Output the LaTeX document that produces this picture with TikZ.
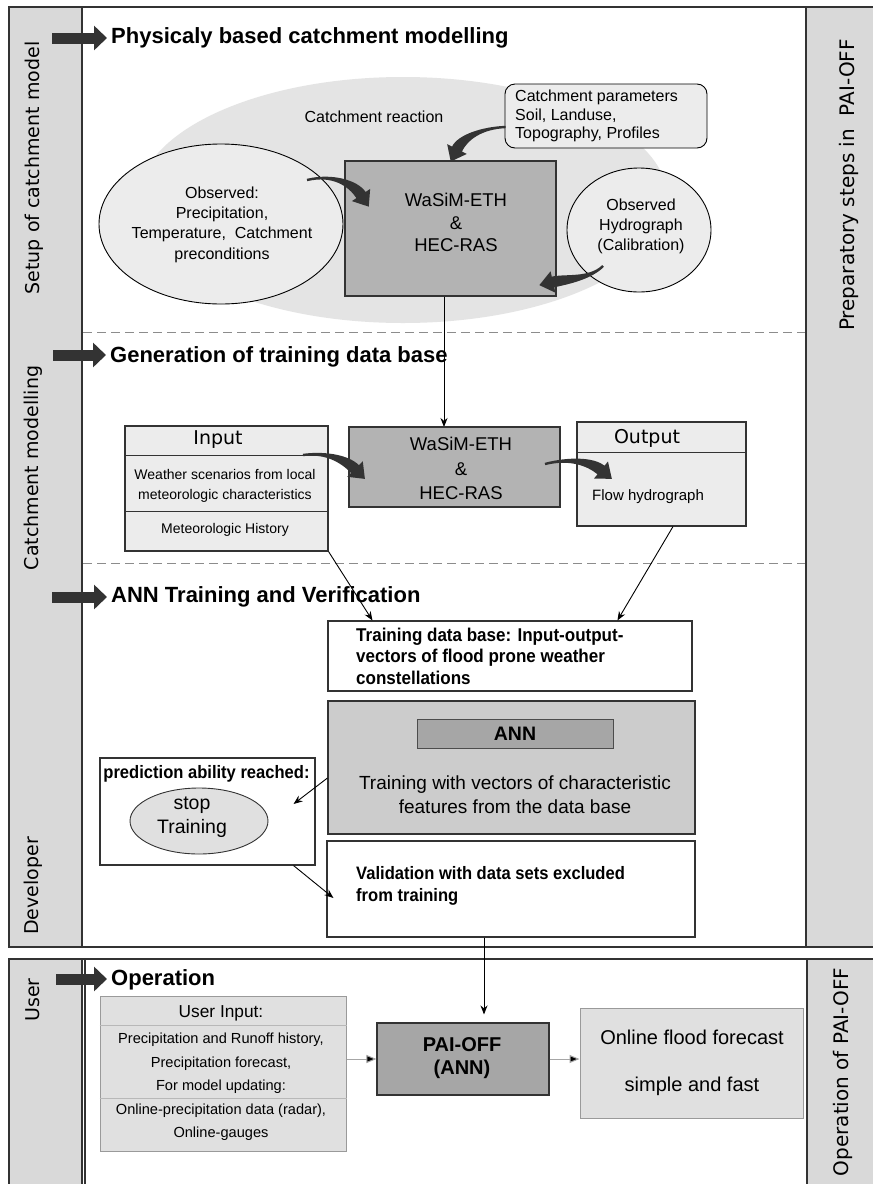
\documentclass[tikz,border=0pt]{standalone}
\usepackage{fontspec}
\setmainfont{Liberation Sans}
\newfontfamily\dejavu{DejaVu Sans}
\newfontfamily\narrowf[FakeStretch=0.92]{Liberation Sans}
\usetikzlibrary{arrows.meta,calc,shapes.geometric}
\definecolor{stripgray}{HTML}{D9D9D9}
\definecolor{framecol}{HTML}{333333}
\definecolor{ellgray}{HTML}{E4E4E4}
\definecolor{lightfill}{HTML}{ECECEC}
\definecolor{midgray}{HTML}{B3B3B3}
\definecolor{anngray}{HTML}{CCCCCC}
\definecolor{darkgray}{HTML}{A6A6A6}
\definecolor{userfill}{HTML}{E0E0E0}
\definecolor{userline}{HTML}{9A9A9A}
\newcommand\fsz[2]{\fontsize{#1}{#2}\selectfont}
% tapered curved block arrow: #1 start, #2 control 1, #3 control 2, #4 base of head
\newcommand\taperarrow[4]{%
  \coordinate (tSL) at ($(#1)!1.2pt!90:(#2)$);
  \coordinate (tSR) at ($(#1)!1.2pt!-90:(#2)$);
  \coordinate (tEL) at ($(#4)!5.5pt!-90:(#3)$);
  \coordinate (tER) at ($(#4)!5.5pt!90:(#3)$);
  \coordinate (tHL) at ($(#4)!11pt!-90:(#3)$);
  \coordinate (tHR) at ($(#4)!11pt!90:(#3)$);
  \coordinate (tTip) at ($(#4)!-14pt!(#3)$);
  \fill[framecol] (tSL) .. controls ($(#2)+(tSL)-(#1)$) and ($(#3)+(tEL)-(#4)$) .. (tEL)
     -- (tHL) -- (tTip) -- (tHR) -- (tER)
     .. controls ($(#3)+(tER)-(#4)$) and ($(#2)+(tSR)-(#1)$) .. (tSR) -- cycle;
}
\begin{document}
\begin{tikzpicture}[x=1pt,y=-1pt,
  frameline/.style={draw=framecol,line width=1.8pt},
  strip/.style={fill=stripgray},
  box/.style={draw=framecol,line width=1.1pt,rectangle,inner sep=0pt},
  lbl/.style={inner sep=0pt,align=center},
  heading/.style={inner sep=4pt,anchor=west,font=\bfseries\fsz{22}{26}},
  harr/.style={draw=framecol,line width=11pt,-{Triangle[length=13pt,width=24pt]}},
  thinarr/.style={draw=black,line width=0.9pt,-{Stealth[length=9pt,width=7pt]}},
  striplbl/.style={inner sep=0pt,rotate=90,font=\dejavu\fsz{19}{22}},
  dashline/.style={draw=black!45,line width=0.9pt,dash pattern=on 9pt off 5pt}
]
\useasboundingbox (0,0) rectangle (873,1184);
\fill[white] (0,0) rectangle (873,1184);

% ---------- upper frame ----------
\fill[strip] (9,7) rectangle (82,947);
\fill[strip] (806,7) rectangle (880,947);
\draw[frameline] (880,7) -- (9,7) -- (9,947) -- (880,947);
\draw[frameline] (82,7) -- (82,947);
\draw[frameline] (806,7) -- (806,947);
% ---------- lower frame ----------
\fill[strip] (9,959) rectangle (82,1190);
\fill[strip] (807,959) rectangle (880,1190);
\draw[frameline] (9,1190) -- (9,959) -- (880,959);
\draw[frameline] (82,959) -- (82,1190);
\draw[draw=framecol,line width=1.2pt] (85,959) -- (85,1190);
\draw[frameline] (807,959) -- (807,1190);

% dashed separators
\draw[dashline] (83,332) -- (805,332);
\draw[dashline] (83,563) -- (805,563);

% strip labels
\node[striplbl] (lsetup) at (34,168) {Setup of catchment model};
\node[striplbl] (lcatch) at (33,468) {Catchment modelling};
\node[striplbl] (ldev) at (33,886) {Developer};
\node[striplbl] (luser) at (33,1000) {User};
\node[striplbl,font=\dejavu\fsz{20}{22}] (rprep) at (849,185) {Preparatory steps in\ \ PAI-OFF};
\node[striplbl,font=\dejavu\fsz{20}{22}] (roper) at (843,1072) {Operation of PAI-OFF};

% headings
\node[heading] (h1) at (107,37.5) {Physicaly based catchment modelling};
\node[heading] (h2) at (106,357) {Generation of training data base};
\node[heading] (h3) at (107,597) {ANN Training and Verification};
\node[heading] (h4) at (107,980) {Operation};
\coordinate (h1s) at (52,38);
\coordinate (h2s) at (53,355);
\coordinate (h3s) at (52,597);
\coordinate (h4s) at (56,979);
\draw[harr] (h1s) -- (h1.west |- h1s);
\draw[harr] (h2s) -- (h2.west |- h2s);
\draw[harr] (h3s) -- (h3.west |- h3s);
\draw[harr] (h4s) -- (h4.west |- h4s);

% ---------- section 1 ----------
\fill[ellgray] (403,200) ellipse [x radius=265pt, y radius=123pt];
\node[lbl,font=\fsz{16}{19}] (reaction) at (374,117) {Catchment reaction};

\node[box,fill=midgray,minimum width=211pt,minimum height=135pt] (wasim1) at (450.5,228.5) {};
\node[lbl,font=\fsz{18.5}{22.5}] (wasim1t) at (456,222.5) {WaSiM-ETH\\\&\\HEC-RAS};

\node[ellipse,draw=black,line width=0.9pt,fill=lightfill,minimum width=244pt,minimum height=160pt,inner sep=0pt] (obs) at (221,224) {};
\node[lbl,font=\fsz{16}{20.3}] (obst) at (222,224.5) {Observed:\\Precipitation,\\Temperature,\ \ Catchment\\preconditions};

\node[draw=black,line width=0.9pt,fill=lightfill,rounded corners=10pt,minimum width=202pt,minimum height=64pt,inner sep=0pt] (params) at (606,116) {};
\node[lbl,anchor=west,align=left,font=\fsz{16}{18.5}] (paramst) at (515,116) {Catchment parameters\\Soil, Landuse,\\Topography, Profiles};

\node[ellipse,draw=black,line width=0.9pt,fill=lightfill,minimum width=144pt,minimum height=124pt,inner sep=0pt] (hydro) at (639,230) {};
\node[lbl,font=\fsz{16}{20}] (hydrot) at (641,226) {Observed\\Hydrograph\\(Calibration)};

% curved block arrows of section 1
\coordinate (a1s) at (307,180);
\coordinate (a1c) at (332,174);
\coordinate (a1d) at (353,183);
\coordinate (a1e) at (361,195);
\taperarrow{a1s}{a1c}{a1d}{a1e}
\coordinate (a2s) at ($(params.west)+(1,11)$);
\coordinate (a2c) at (482,128);
\coordinate (a2d) at (463,137);
\coordinate (a2e) at (457,149);
\taperarrow{a2s}{a2c}{a2d}{a2e}
\coordinate (a3s) at (603,266);
\coordinate (a3c) at (590,279);
\coordinate (a3d) at (566,279);
\coordinate (a3e) at (553,282);
\taperarrow{a3s}{a3c}{a3d}{a3e}

% ---------- section 2 ----------
\draw[thinarr] ([xshift=-6.5pt]wasim1.south) -- ([xshift=-6.5pt]wasim1.south |- 0,427);

\node[box,fill=lightfill,minimum width=203pt,minimum height=125pt] (inbox) at (226.5,488.5) {};
\draw[draw=framecol,line width=1.1pt] ($(inbox.north west)+(0,30)$) -- ($(inbox.north east)+(0,30)$);
\draw[draw=framecol,line width=1.1pt] ($(inbox.north west)+(0,86)$) -- ($(inbox.north east)+(0,86)$);
\node[lbl,font=\dejavu\fsz{19}{22}] (intitle) at (218,440) {Input};
\node[lbl,font=\fsz{14}{20}] (inweather) at (225,485.5) {Weather scenarios from local\\meteorologic characteristics};
\node[lbl,font=\fsz{14}{20}] (inhist) at (225,530) {Meteorologic History};

\node[box,fill=midgray,minimum width=211pt,minimum height=80pt] (wasim2) at (454.5,467) {};
\node[lbl,font=\fsz{18.5}{24.5}] (wasim2t) at (461,468.5) {WaSiM-ETH\\\&\\HEC-RAS};

\node[box,fill=lightfill,minimum width=169pt,minimum height=104pt] (outbox) at (661.5,474) {};
\draw[draw=framecol,line width=1.1pt] ($(outbox.north west)+(0,31)$) -- ($(outbox.north east)+(0,31)$);
\node[lbl,font=\dejavu\fsz{19}{22}] (outtitle) at (647,438) {Output};
\node[lbl,anchor=west,font=\fsz{15}{18}] (outflow) at (592,497) {Flow hydrograph};

\coordinate (a4s) at (303,455);
\coordinate (a4c) at (326,452);
\coordinate (a4d) at (345,459);
\coordinate (a4e) at (355,469);
\taperarrow{a4s}{a4c}{a4d}{a4e}
\coordinate (a5s) at (545,464);
\coordinate (a5c) at (568,458);
\coordinate (a5d) at (590,461);
\coordinate (a5e) at (601,470);
\taperarrow{a5s}{a5c}{a5d}{a5e}

% ---------- section 3 ----------
\node[box,fill=white,minimum width=364pt,minimum height=70pt] (train) at (510,656) {};
\node[lbl,anchor=west,align=left,font=\narrowf\bfseries\fsz{18.5}{21.5}] (traint) at (356,656) {Training data base: Input-output-\\vectors of flood prone weather\\constellations};

\draw[thinarr] (inbox.south east) -- ($(train.north west)+(45,0)$);
\draw[thinarr] ($(outbox.south)+(11.5,0)$) -- ($(train.north west)+(290,0)$);

\node[box,fill=anngray,minimum width=367pt,minimum height=133pt] (ann) at (511.5,767.5) {};
\node[draw=black!70,line width=0.9pt,fill=darkgray,minimum width=196pt,minimum height=29pt,inner sep=0pt,font=\bfseries\fsz{19.5}{22}] (annbar) at (515,733.5) {ANN};
\node[lbl,font=\fsz{19}{24}] (annt) at (515,795) {Training with vectors of characteristic\\features from the data base};

\node[box,fill=white,minimum width=215pt,minimum height=107pt] (pred) at (207.5,811.5) {};
\node[lbl,font=\narrowf\bfseries\fsz{18}{20}] (predt) at (206.5,774) {prediction ability reached:};
\node[ellipse,draw=black!80,line width=0.9pt,fill=userfill,minimum width=138pt,minimum height=66pt,inner sep=0pt] (stop) at (199,821) {};
\node[lbl,font=\fsz{19.5}{24}] (stopt) at (192,817) {stop\\Training};

\draw[thinarr] ($(ann.west)+(0,10.5)$) -- ($(pred.east)+(-22,-7.5)$);

\node[box,fill=white,minimum width=368pt,minimum height=96pt] (valid) at (511,889) {};
\node[lbl,anchor=west,align=left,font=\narrowf\bfseries\fsz{18}{22}] (validt) at (356,886) {Validation with data sets excluded\\from training};

\draw[thinarr] ($(pred.south east)+(-22,0)$) -- ($(valid.west)+(7,9)$);

% ---------- section 4 ----------
\node[box,fill=darkgray,minimum width=172pt,minimum height=72pt] (paioff) at (463,1059) {};
\node[lbl,font=\bfseries\fsz{20}{23}] (paiofft) at (462,1058.5) {PAI-OFF\\(ANN)};

\draw[thinarr] ($(valid.south)+(-27,0)$) -- ($(paioff.north)+(21,-8)$);

\node[draw=userline,line width=1pt,fill=userfill,minimum width=246pt,minimum height=155pt,inner sep=0pt] (userin) at (223,1073.5) {};
\draw[draw=userline!70,line width=0.8pt] ($(userin.north west)+(0,30)$) -- ($(userin.north east)+(0,30)$);
\draw[draw=userline!70,line width=0.8pt] ($(userin.north west)+(0,103)$) -- ($(userin.north east)+(0,103)$);
\node[lbl,font=\fsz{17.3}{20}] (userint) at (221,1013.5) {User Input:};
\node[lbl,font=\fsz{14.6}{23.5}] (userinb) at (221,1063.5) {Precipitation and Runoff history,\\Precipitation forecast,\\For model updating:};
\node[lbl,font=\fsz{14.6}{23.5}] (userinc) at (221,1122) {Online-precipitation data (radar),\\Online-gauges};

\node[draw=userline,line width=1pt,fill=userfill,minimum width=223pt,minimum height=110pt,inner sep=0pt] (online) at (691.5,1063) {};
\node[lbl,font=\fsz{20}{47}] (onlinet) at (692,1062.5) {Online flood forecast\\simple and fast};

\draw[draw=black!35,line width=1pt,-{Triangle[length=10pt,width=8pt,fill=black]}] (userin.east |- paioff.west) -- (paioff.west);
\draw[draw=black!35,line width=1pt,-{Triangle[length=10pt,width=8pt,fill=black]}] (paioff.east) -- (online.west |- paioff.east);
\end{tikzpicture}
\end{document}
